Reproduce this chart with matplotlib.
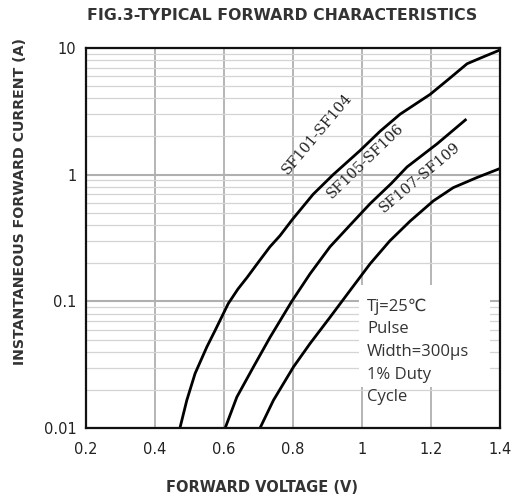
import matplotlib
matplotlib.use('Agg')
import matplotlib.pyplot as plt
from matplotlib.patches import Rectangle
from matplotlib.ticker import FixedLocator, LogLocator, NullFormatter

# values
v_sf101 = [0.472, 0.492, 0.516, 0.550, 0.574, 0.612, 0.640, 0.667, 0.700, 0.733,
           0.762, 0.797, 0.858, 0.916, 0.994, 1.052, 1.110, 1.197, 1.255, 1.304,
           1.342, 1.394, 1.40]
i_sf101 = [0.010, 0.0166, 0.027, 0.0437, 0.059, 0.096, 0.125, 0.155, 0.205, 0.27,
           0.33, 0.44, 0.70, 1.0, 1.55, 2.2, 3.0, 4.3, 5.8, 7.5,
           8.3, 9.5, 9.7]

v_sf105 = [0.603, 0.637, 0.685, 0.733, 0.796, 0.849, 0.907, 0.965, 1.023, 1.084,
           1.130, 1.217, 1.299]
i_sf105 = [0.010, 0.0176, 0.0304, 0.052, 0.10, 0.165, 0.27, 0.40, 0.59, 0.85,
           1.15, 1.75, 2.7]

v_sf107 = [0.704, 0.743, 0.801, 0.849, 0.907, 0.965, 1.023, 1.080, 1.139, 1.206,
           1.264, 1.333, 1.40]
i_sf107 = [0.010, 0.0166, 0.0304, 0.0465, 0.075, 0.122, 0.198, 0.30, 0.43, 0.62,
           0.79, 0.95, 1.12]

x_ticks = [0.2, 0.4, 0.6, 0.8, 1.0, 1.2, 1.4]
x_tick_labels = ['0.2', '0.4', '0.6', '0.8', '1', '1.2', '1.4']
y_ticks = [0.01, 0.1, 1, 10]
y_tick_labels = ['0.01', '0.1', '1', '10']

fig = plt.figure(figsize=(5.12, 4.99), dpi=100)
ax = fig.add_axes([0.168, 0.142, 0.809, 0.762])

ax.set_yscale('log')
ax.set_xlim(0.2, 1.4)
ax.set_ylim(0.01, 10)

ax.xaxis.set_major_locator(FixedLocator(x_ticks))
ax.set_xticklabels(x_tick_labels)
ax.yaxis.set_major_locator(FixedLocator(y_ticks))
ax.set_yticklabels(y_tick_labels)
ax.yaxis.set_minor_locator(LogLocator(base=10, subs=range(2, 10)))
ax.yaxis.set_minor_formatter(NullFormatter())

ax.grid(True, which='major', axis='x', color='#b0b0b0', lw=1.3)
ax.grid(True, which='major', axis='y', color='#b0b0b0', lw=1.5)
ax.grid(True, which='minor', axis='y', color='#d4d4d4', lw=0.9)
ax.tick_params(which='both', length=0, labelsize=10.5, labelcolor='#222222')
ax.tick_params(axis='x', pad=10)
ax.tick_params(axis='y', pad=7)

for s in ax.spines.values():
    s.set_color('#111111')
    s.set_linewidth(1.6)
    s.set_zorder(5)

ax.plot(v_sf101, i_sf101, color='black', lw=2.0, zorder=3)
ax.plot(v_sf105, i_sf105, color='black', lw=2.0, zorder=3)
ax.plot(v_sf107, i_sf107, color='black', lw=2.0, zorder=3)

lab = dict(fontsize=10.5, family='DejaVu Serif', color='#222222',
           ha='center', va='center', rotation_mode='anchor', zorder=4)
ax.text(0.870, 2.1, 'SF101-SF104', rotation=50, **lab)
ax.text(1.009, 1.29, 'SF105-SF106', rotation=44, **lab)
ax.text(1.168, 0.95, 'SF107-SF109', rotation=40, **lab)

# white patch behind the test conditions
ax.add_patch(Rectangle((0.99, 0.021), 0.38, 0.113, facecolor='white',
                       edgecolor='none', zorder=2))
ax.text(1.014, 0.040, 'Tj=25℃\nPulse\nWidth=300μs\n1% Duty\nCycle',
        fontsize=12, family=['Open Sans', 'DejaVu Sans'], color='#333333',
        ha='left', va='center', linespacing=1.55, zorder=4)

fig.text(0.551, 0.968, 'FIG.3-TYPICAL FORWARD CHARACTERISTICS',
         ha='center', va='center', fontsize=11.3, fontweight='bold',
         family='DejaVu Sans', color='#333333')
fig.text(0.512, 0.024, 'FORWARD VOLTAGE (V)', ha='center', va='center',
         fontsize=10.5, fontweight='bold', family='DejaVu Sans', color='#333333')
fig.text(0.039, 0.597, 'INSTANTANEOUS FORWARD CURRENT (A)', ha='center', va='center',
         rotation=90, fontsize=10.2, fontweight='bold', family='DejaVu Sans',
         color='#333333')

fig.savefig('out.png', dpi=100)
